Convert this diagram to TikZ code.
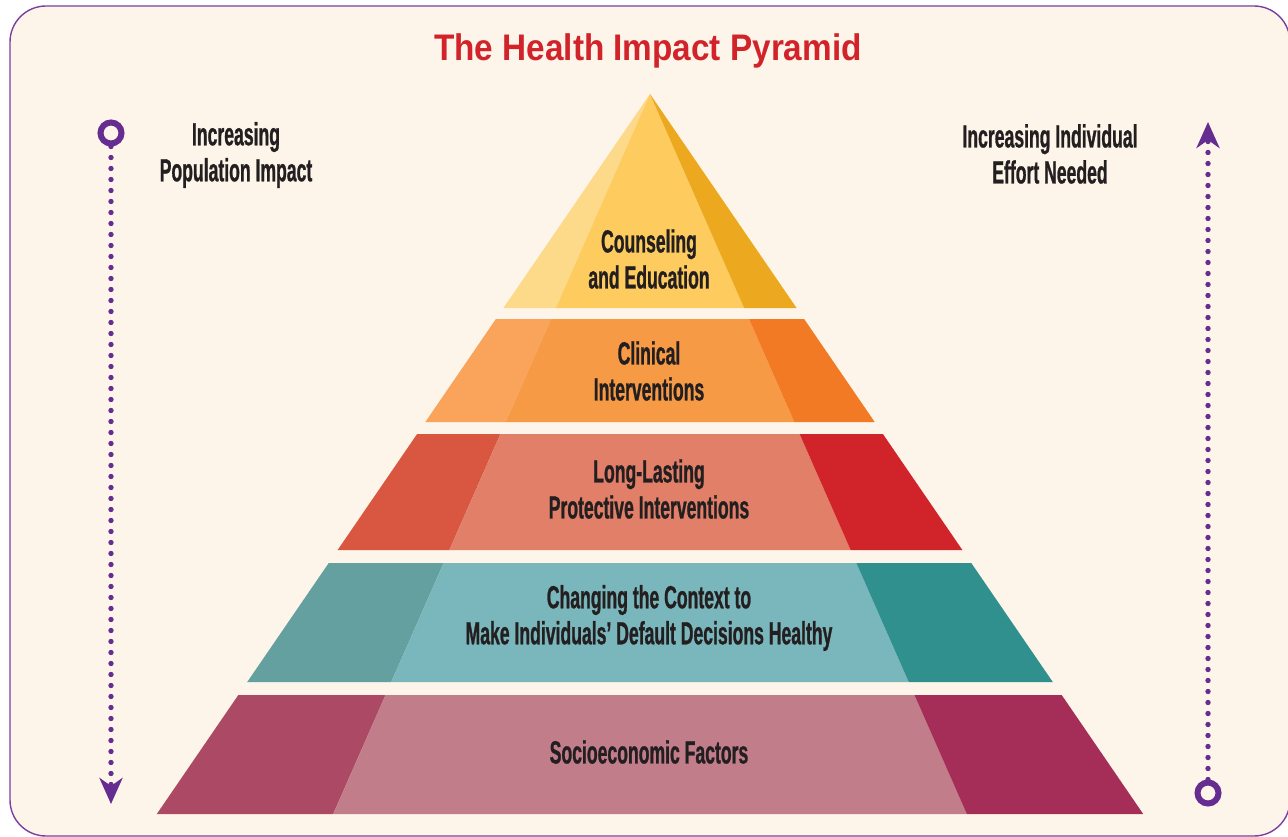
\documentclass[tikz,border=0pt]{standalone}
\usepackage{fontspec}
\setmainfont{Liberation Sans}
\newfontfamily\condfont[FakeStretch=0.55, FakeBold=0.8]{Liberation Sans}
\newfontfamily\titlefont[FakeStretch=0.9]{Liberation Sans}
\usetikzlibrary{arrows.meta}

\definecolor{cream}{HTML}{FDF5E9}
\definecolor{framepurple}{HTML}{7B3FA0}
\definecolor{arrowpurple}{HTML}{662D91}
\definecolor{ink}{HTML}{231F20}
\definecolor{titlered}{HTML}{D2232A}
\definecolor{yelL}{HTML}{FDD98A}
\definecolor{yelM}{HTML}{FDCB5E}
\definecolor{yelR}{HTML}{ECA920}
\definecolor{oraL}{HTML}{F9A45A}
\definecolor{oraM}{HTML}{F69A45}
\definecolor{oraR}{HTML}{F37A24}
\definecolor{redL}{HTML}{D95741}
\definecolor{redM}{HTML}{E17F68}
\definecolor{redR}{HTML}{D1232A}
\definecolor{tealL}{HTML}{64A0A0}
\definecolor{tealM}{HTML}{7AB7BD}
\definecolor{tealR}{HTML}{30908E}
\definecolor{plumL}{HTML}{AC4965}
\definecolor{plumM}{HTML}{C27D8B}
\definecolor{plumR}{HTML}{A42E58}

\tikzset{
  tiertext/.style={font=\condfont\bfseries\fontsize{32}{36}\selectfont, text=ink, align=center, inner sep=0pt},
  ring/.style={circle, draw=arrowpurple, line width=6pt, minimum size=21pt, inner sep=0pt},
  dotline/.style={arrowpurple, line width=5.4pt, line cap=round, dash pattern=on 0pt off 11pt}
}

\begin{document}
\begin{tikzpicture}[x=1pt, y=-1pt]
\useasboundingbox (0,0) rectangle (1288,837);
\fill[white] (0,0) rectangle (1288,837);
\draw[framepurple, fill=cream, line width=1.4pt, rounded corners=36pt] (10,6) rectangle (1290,836);

% pyramid tiers: top y / bottom y / left, middle, right colour
\foreach \ya/\yb/\cl/\cm/\cr in {94/308/yelL/yelM/yelR, 319/422/oraL/oraM/oraR,
    434/550/redL/redM/redR, 563/682/tealL/tealM/tealR, 695/814/plumL/plumM/plumR}{
  \pgfmathsetmacro\oa{0.685*(\ya-94)}
  \pgfmathsetmacro\ob{0.685*(\yb-94)}
  \pgfmathsetmacro\ia{0.44*(\ya-94)}
  \pgfmathsetmacro\ib{0.44*(\yb-94)}
  \fill[\cl] (650-\oa,\ya) -- (650-\ia,\ya) -- (650-\ib,\yb) -- (650-\ob,\yb) -- cycle;
  \fill[\cm] (650-\ia,\ya) -- (650+\ia,\ya) -- (650+\ib,\yb) -- (650-\ib,\yb) -- cycle;
  \fill[\cr] (650+\ia,\ya) -- (650+\oa,\ya) -- (650+\ob,\yb) -- (650+\ib,\yb) -- cycle;
}

\node[font=\titlefont\bfseries\fontsize{37}{40}\selectfont, text=titlered] (title) at (648,51) {The Health Impact Pyramid};

\node[tiertext] (counsel) at (649,259) {Counseling\\and Education};
\node[tiertext] (clinic) at (649,371) {Clinical\\Interventions};
\node[tiertext] (protect) at (649,489) {Long-Lasting\\Protective Interventions};
\node[tiertext] (context) at (649,618) {Changing the Context to\\Make Individuals’ Default Decisions Healthy};
\node[tiertext] (socio) at (649,752) {Socioeconomic Factors};

\node[tiertext] (popimpact) at (236,155) {Increasing\\Population Impact};
\node[tiertext] (effort) at (1050,154) {Increasing Individual\\Effort Needed};

% side arrows
\node[ring] (lring) at (111,133) {};
\coordinate (ltip) at (111,804);
\draw[dotline, -{Stealth[length=26pt, width=23pt, inset=8pt]}] (lring) -- (ltip);

\node[ring] (rring) at (1208,793) {};
\coordinate (rtip) at (1208,122);
\draw[dotline, -{Stealth[length=26pt, width=23pt, inset=8pt]}] (rring) -- (rtip);
\end{tikzpicture}
\end{document}
